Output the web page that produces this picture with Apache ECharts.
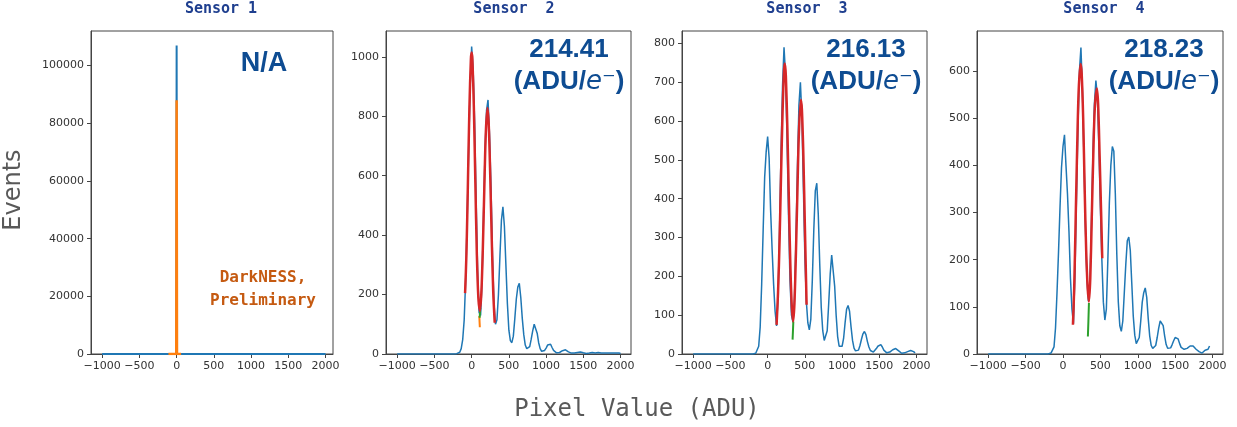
<!DOCTYPE html>
<html>
<head>
<meta charset="utf-8">
<script src="https://cdn.jsdelivr.net/npm/echarts@6/dist/echarts.min.js"></script>
<style>html,body{margin:0;padding:0;background:#fff;}#chart{width:1237px;height:427px;}</style>
</head>
<body>
<div id="chart"></div>
<script>
// ---------- DATA ----------
const sensorTitles = ['Sensor 1', 'Sensor  2', 'Sensor  3', 'Sensor  4'];
const gainTexts = ['N/A', '214.41', '216.13', '218.23'];
const xTickValues = [-1000, -500, 0, 500, 1000, 1500, 2000];
const yTicks1 = [0, 20000, 40000, 60000, 80000, 100000];
const yTicks2 = [0, 200, 400, 600, 800, 1000];
const yTicks3 = [0, 100, 200, 300, 400, 500, 600, 700, 800];
const yTicks4 = [0, 100, 200, 300, 400, 500, 600];

// Sensor 1: single spike at 0
const sensor1X = [-1000, -5, 0, 5, 2000];
const sensor1Counts = [0, 0, 107000, 0, 0];
const sensor1OrangeX = [-110, -5, 0, 5, 60];
const sensor1OrangeCounts = [0, 0, 88000, 0, 0];

// Histogram bin centres (ADU) for sensors 2-4
const binX = [-1000,
  -240, -220, -200, -180, -160, -140, -120, -100, -80, -60,
  -40, -20, 0, 20, 40, 60, 80, 100, 120, 140,
  160, 180, 200, 220, 240, 260, 280, 300, 320, 340,
  360, 380, 400, 420, 440, 460, 480, 500, 520, 540,
  560, 580, 600, 620, 640, 660, 680, 700, 720, 740,
  760, 780, 800, 820, 840, 860, 880, 900, 920, 940,
  960, 980, 1000, 1020, 1040, 1060, 1080, 1100, 1120, 1140,
  1160, 1180, 1200, 1220, 1240, 1260, 1280, 1300, 1320, 1340,
  1360, 1380, 1400, 1420, 1440, 1460, 1480, 1500, 1520, 1540,
  1560, 1580, 1600, 1620, 1640, 1660, 1680, 1700, 1720, 1740,
  1760, 1780, 1800, 1820, 1840, 1860, 1880, 1900, 1920, 1940,
  1960, 1980, 2000];

const sensor2Counts = [0,
  0, 0, 1, 2, 6, 18, 48, 115, 250, 450,
  690, 900, 1035, 960, 780, 520, 280, 140, 130, 250,
  470, 680, 820, 855, 740, 560, 330, 170, 100, 115,
  200, 330, 450, 495, 430, 300, 170, 80, 45, 38,
  60, 120, 185, 225, 238, 190, 120, 65, 30, 18,
  15, 25, 50, 78, 100, 104, 70, 38, 18, 9,
  8, 12, 20, 30, 36, 33, 22, 12, 6, 4,
  3, 5, 8, 11, 14, 14, 11, 7, 4, 3,
  2, 3, 4, 5, 6, 7, 6, 4, 3, 2,
  2, 3, 4, 5, 4, 3, 4, 5, 4, 3,
  2, 3, 4, 3, 2, 3, 4, 3, 2, 3,
  4, 3, 2];

const sensor3Counts = [0,
  0, 0, 0, 1, 2, 5, 20, 70, 180, 320,
  455, 520, 560, 505, 370, 270, 180, 110, 72, 150,
  320, 520, 690, 790, 720, 560, 360, 190, 100, 82,
  140, 290, 480, 640, 700, 610, 430, 250, 135, 80,
  62, 90, 190, 320, 420, 440, 360, 230, 120, 60,
  35, 30, 60, 130, 205, 255, 250, 175, 100, 45,
  20, 15, 20, 40, 80, 115, 125, 110, 70, 35,
  15, 8, 6, 10, 22, 38, 52, 58, 50, 32,
  18, 9, 6, 5, 8, 14, 20, 25, 24, 18,
  10, 5, 3, 3, 5, 8, 11, 13, 14, 12,
  8, 4, 2, 2, 3, 4, 6, 8, 9, 8,
  6, 3, null];

const sensor4Counts = [0,
  0, 0, 0, 1, 2, 4, 15, 55, 130, 215,
  310, 395, 440, 465, 400, 340, 260, 160, 95, 64,
  170, 330, 480, 600, 650, 560, 420, 270, 160, 112,
  150, 270, 420, 530, 580, 545, 440, 310, 200, 110,
  72, 95, 200, 320, 400, 440, 430, 340, 210, 110,
  60, 48, 70, 130, 190, 240, 248, 220, 150, 80,
  40, 22, 18, 35, 70, 110, 130, 140, 120, 75,
  38, 18, 12, 10, 18, 35, 55, 70, 73, 60,
  38, 20, 12, 10, 13, 20, 28, 35, 37, 32,
  22, 14, 11, 10, 10, 12, 15, 17, 18, 17,
  14, 10, 7, 5, 3, 2, 4, 8, 12, 10,
  17, null, null];

// Fit curves (red)
const sensor2FitX = [-88, -70, -50, -30, -10, 0, 10, 30, 50, 70, 90, 110, 130, 150, 170, 190, 212, 230, 250, 270, 290, 310];
const sensor2Fit  = [205, 335, 576, 828, 993, 1015, 993, 828, 576, 335, 190, 145, 203, 352, 555, 743, 828, 770, 598, 387, 209, 105];
const sensor3FitX = [120, 140, 160, 180, 200, 220, 231, 245, 265, 285, 305, 325, 343, 360, 380, 400, 420, 446, 460, 480, 500, 523];
const sensor3Fit  = [75, 160, 290, 460, 620, 730, 748, 715, 580, 400, 230, 120, 84, 130, 260, 420, 570, 655, 630, 510, 330, 127];
const sensor4FitX = [133, 150, 170, 190, 210, 236, 250, 270, 290, 310, 330, 347, 365, 385, 405, 425, 453, 470, 490, 510, 525];
const sensor4Fit  = [62, 140, 290, 440, 560, 615, 595, 500, 350, 220, 140, 111, 160, 290, 420, 520, 563, 530, 420, 300, 203];

// Small side fit pieces
const sensor2OrangeX = [103, 107, 110];
const sensor2Orange  = [128, 105, 90];
const sensor2GreenX = [108, 112, 116];
const sensor2Green  = [122, 140, 155];
const sensor3GreenX = [335, 340, 345];
const sensor3Green  = [37, 60, 84];
const sensor4GreenX = [333, 340, 347];
const sensor4Green  = [37, 70, 108];

// ---------- CHART ----------
function pairs(xs, ys) { return xs.map((x, i) => [x, ys[i]]); }
const BLUE = '#1f77b4', ORANGE = '#ff7f0e', GREEN = '#2ca02c', RED = '#d62728';
const AX = '#444';
const fmt = v => (v < 0 ? '\u2212' + Math.abs(v) : String(v));

const grids = [
  { left: 91, top: 31, width: 242, height: 323 },
  { left: 386, top: 31, width: 245, height: 323 },
  { left: 682, top: 31, width: 245, height: 323 },
  { left: 977, top: 31, width: 246, height: 323 }
].map(g => Object.assign({ show: true, borderColor: AX, borderWidth: 1, containLabel: false }, g));

const xRanges = [[-1150, 2100], [-1150, 2140], [-1150, 2140], [-1150, 2140]];
const yMax = [112000, 1087, 832, 685];
const yTicks = [yTicks1, yTicks2, yTicks3, yTicks4];

const xAxes = xRanges.map((r, i) => ({
  type: 'value', gridIndex: i, min: r[0], max: r[1], position: 'bottom',
  axisLine: { show: true, onZero: false, lineStyle: { color: AX, width: 1 } },
  axisTick: { show: true, length: 4, lineStyle: { color: AX }, customValues: xTickValues },
  axisLabel: { customValues: xTickValues, formatter: fmt, color: '#333', fontSize: 11, fontFamily: 'DejaVu Sans', margin: 7 },
  splitLine: { show: false }
}));
const yAxes = yMax.map((m, i) => ({
  type: 'value', gridIndex: i, min: 0, max: m, position: 'left',
  axisLine: { show: true, onZero: false, lineStyle: { color: AX, width: 1 } },
  axisTick: { show: true, length: 4, lineStyle: { color: AX }, customValues: yTicks[i] },
  axisLabel: { customValues: yTicks[i], formatter: fmt, color: '#333', fontSize: 11, fontFamily: 'DejaVu Sans', margin: 7 },
  splitLine: { show: false }
}));

function line(idx, xs, ys, color, width, extra) {
  return Object.assign({
    type: 'line', xAxisIndex: idx, yAxisIndex: idx, data: pairs(xs, ys),
    showSymbol: false, symbol: 'none', animation: false, connectNulls: false,
    lineStyle: { color: color, width: width }, itemStyle: { color: color }
  }, extra || {});
}

const series = [
  line(0, sensor1X, sensor1Counts, BLUE, 2, { z: 2 }),
  line(0, sensor1OrangeX, sensor1OrangeCounts, ORANGE, 2.5, { z: 3 }),
  line(1, binX, sensor2Counts, BLUE, 1.5, { z: 2 }),
  line(1, sensor2OrangeX, sensor2Orange, ORANGE, 2, { z: 3 }),
  line(1, sensor2GreenX, sensor2Green, GREEN, 2, { z: 3 }),
  line(1, sensor2FitX, sensor2Fit, RED, 2.5, { z: 4, smooth: 0.3 }),
  line(2, binX, sensor3Counts, BLUE, 1.5, { z: 2 }),
  line(2, sensor3GreenX, sensor3Green, GREEN, 2, { z: 3 }),
  line(2, sensor3FitX, sensor3Fit, RED, 2.5, { z: 4, smooth: 0.3 }),
  line(3, binX, sensor4Counts, BLUE, 1.5, { z: 2 }),
  line(3, sensor4GreenX, sensor4Green, GREEN, 2, { z: 3 }),
  line(3, sensor4FitX, sensor4Fit, RED, 2.5, { z: 4, smooth: 0.3 })
];

const TITLE_C = '#1f3f8f', ANN_C = '#0e4c92', DARK_C = '#c55a11', LABEL_C = '#595959';
const titleX = [221, 514, 807, 1104];
const gainX = [264, 569, 866, 1164];

const graphic = [];
sensorTitles.forEach((t, i) => graphic.push({
  type: 'text', x: titleX[i], y: 9, z: 10,
  style: { text: t, fill: TITLE_C, font: 'bold 15px "DejaVu Sans Mono"', textAlign: 'center', textVerticalAlign: 'middle' }
}));
graphic.push({
  type: 'text', x: gainX[0], y: 64, z: 10,
  style: { text: gainTexts[0], fill: ANN_C, font: 'bold 27px "Liberation Sans"', textAlign: 'center', textVerticalAlign: 'middle' }
});
for (let i = 1; i < 4; i++) {
  graphic.push({
    type: 'text', x: gainX[i], y: 50, z: 10,
    style: { text: gainTexts[i], fill: ANN_C, font: 'bold 26px "Liberation Sans"', textAlign: 'center', textVerticalAlign: 'middle' }
  });
  graphic.push({
    type: 'text', x: gainX[i], y: 82, z: 10,
    style: {
      text: '{b|(ADU/}{i|e}{s|\u207B}{b|)}', textAlign: 'center', textVerticalAlign: 'middle', fill: ANN_C,
      rich: {
        b: { fill: ANN_C, fontSize: 26, fontWeight: 'bold', fontFamily: 'Liberation Sans' },
        i: { fill: ANN_C, fontSize: 26, fontStyle: 'italic', fontFamily: 'DejaVu Sans' },
        s: { fill: ANN_C, fontSize: 26, fontFamily: 'DejaVu Sans' }
      }
    }
  });
}
graphic.push({
  type: 'text', x: 263, y: 278, z: 10,
  style: { text: 'DarkNESS,', fill: DARK_C, font: 'bold 16px "DejaVu Sans Mono"', textAlign: 'center', textVerticalAlign: 'middle' }
});
graphic.push({
  type: 'text', x: 263, y: 301, z: 10,
  style: { text: 'Preliminary', fill: DARK_C, font: 'bold 16px "DejaVu Sans Mono"', textAlign: 'center', textVerticalAlign: 'middle' }
});
graphic.push({
  type: 'text', x: 14, y: 190, rotation: Math.PI / 2, z: 10,
  style: { text: 'Events', fill: LABEL_C, font: '24px "DejaVu Sans"', textAlign: 'center', textVerticalAlign: 'middle' }
});
graphic.push({
  type: 'text', x: 637, y: 410, z: 10,
  style: { text: 'Pixel Value (ADU)', fill: LABEL_C, font: '24px "DejaVu Sans Mono"', textAlign: 'center', textVerticalAlign: 'middle' }
});

const chart = echarts.init(document.getElementById('chart'), null, { renderer: 'canvas' });
chart.setOption({
  animation: false,
  backgroundColor: '#fff',
  grid: grids,
  xAxis: xAxes,
  yAxis: yAxes,
  series: series,
  graphic: graphic
});
</script>
</body>
</html>
